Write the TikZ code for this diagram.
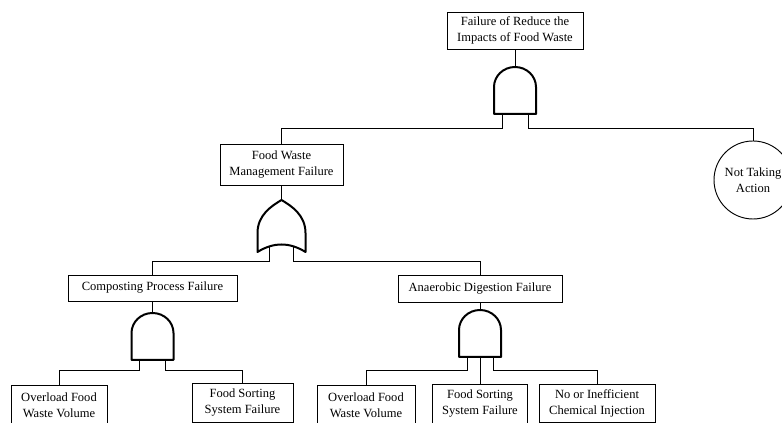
\documentclass[tikz,border=0pt]{standalone}
\usepackage{fontspec}
\setmainfont{Liberation Serif}
\usetikzlibrary{calc}

\tikzset{
  box/.style={draw,line width=0.7pt,align=center,inner sep=1pt,font=\fontsize{9.4}{12}\selectfont},
  event/.style={draw,circle,line width=0.7pt,align=center,inner sep=0pt,font=\fontsize{9.4}{12}\selectfont},
  wire/.style={line width=0.6pt},
  gate/.style={line width=1.5pt,line join=round},
  andgate/.pic={
    \draw[gate] (-21,-47) -- (-21,-20) arc[start angle=180,end angle=0,x radius=21,y radius=20] -- (21,-47) -- cycle;
    \coordinate (-in) at (0,0);
    \coordinate (-l) at (-13,-47);
    \coordinate (-m) at (0,-47);
    \coordinate (-r) at (13,-47);
  },
  orgate/.pic={
    \draw[gate] (-24,-52) -- (-24,-33) .. controls (-24,-15) and (-10,-6) .. (0,0)
      .. controls (10,-6) and (24,-15) .. (24,-33) -- (24,-52)
      .. controls (8,-42) and (-8,-42) .. cycle;
    \coordinate (-in) at (0,0);
    \coordinate (-l) at (-12,-47);
    \coordinate (-r) at (12,-47);
  }
}

\begin{document}
\begin{tikzpicture}[x=0.75pt,y=0.75pt]
\def\u{0.75pt}
\useasboundingbox (0,0) rectangle (782,-423);

\node[box,minimum width=136*\u,minimum height=37*\u] (top) at (515,-30.5) {Failure of Reduce the\\Impacts of Food Waste};
\node[box,minimum width=123*\u,minimum height=41*\u] (fwm) at (281.5,-164.5) {Food Waste\\Management Failure};
\node[event,minimum size=78*\u] (na) at (753,-180) {Not Taking\\Action};
\node[box,minimum width=169*\u,minimum height=26*\u] (cpf) at (152.5,-288) {Composting Process Failure};
\node[box,minimum width=164*\u,minimum height=27*\u] (adf) at (480,-288.5) {Anaerobic Digestion Failure};
\node[box,minimum width=96*\u,minimum height=40*\u] (ofwa) at (59,-405) {Overload Food\\Waste Volume};
\node[box,minimum width=101*\u,minimum height=39*\u] (fssa) at (242.5,-402.5) {Food Sorting\\System Failure};
\node[box,minimum width=98*\u,minimum height=40*\u] (ofwb) at (366,-405) {Overload Food\\Waste Volume};
\node[box,minimum width=95*\u,minimum height=39*\u] (fssb) at (480,-404) {Food Sorting\\System Failure};
\node[box,minimum width=116*\u,minimum height=38*\u] (noci) at (597,-403.5) {No or Inefficient\\Chemical Injection};

\pic (g1) at (515,-67) {andgate};
\pic (g2) at (281.5,-200) {orgate};
\pic (g3) at (152.5,-313) {andgate};
\pic (g4) at (480,-310) {andgate};

\draw[wire] (top.south) -- (g1-in);
\draw[wire] (g1-l) -- ++(0,-14) -| (fwm.north);
\draw[wire] (g1-r) -- ++(0,-14) -| (na.north);
\draw[wire] (fwm.south) -- (g2-in);
\draw[wire] (g2-l) -- ++(0,-14) -| (cpf.north);
\draw[wire] (g2-r) -- ++(0,-14) -| (adf.north);
\draw[wire] (cpf.south) -- (g3-in);
\draw[wire] (g3-l) -- ++(0,-10) -| (ofwa.north);
\draw[wire] (g3-r) -- ++(0,-10) -| (fssa.north);
\draw[wire] (adf.south) -- (g4-in);
\draw[wire] (g4-l) -- ++(0,-13) -| (ofwb.north);
\draw[wire] (g4-m) -- (fssb.north);
\draw[wire] (g4-r) -- ++(0,-13) -| (noci.north);
\end{tikzpicture}
\end{document}
